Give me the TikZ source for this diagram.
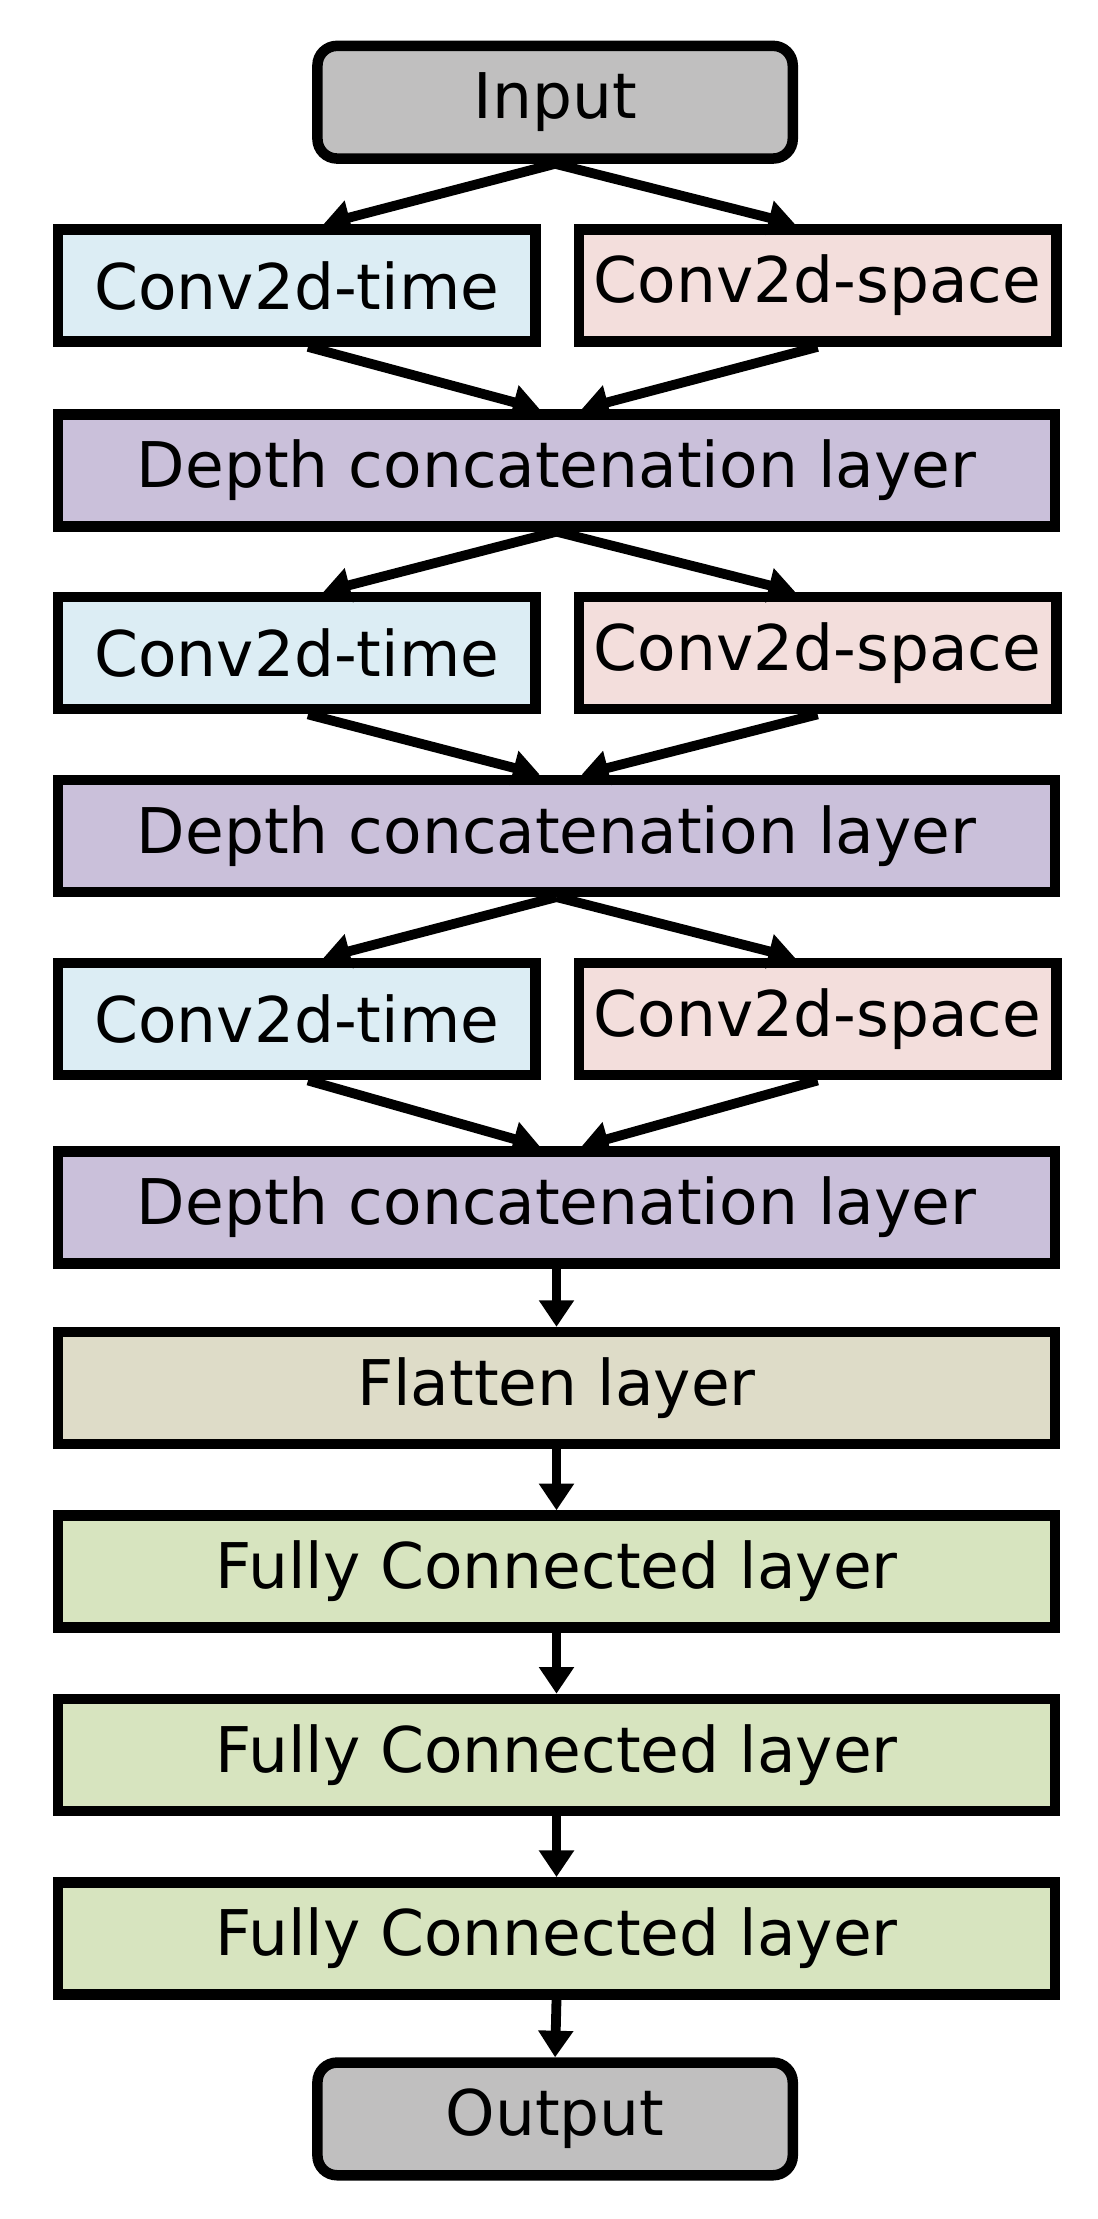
\documentclass[tikz,border=0pt]{standalone}
\usepackage{fontspec}
\setmainfont{DejaVu Sans}
\usetikzlibrary{arrows.meta}
\definecolor{cgray}{HTML}{C0BFBF}
\definecolor{ctime}{HTML}{DCEDF4}
\definecolor{cspace}{HTML}{F3DEDC}
\definecolor{cdepth}{HTML}{CAC0DA}
\definecolor{cflat}{HTML}{DEDCC8}
\definecolor{cfc}{HTML}{D7E4BF}
\begin{document}
\begin{tikzpicture}[x=0.5pt,y=-0.5pt,
  box/.style={draw,line width=3.75pt,inner sep=0pt,font=\fontsize{22.5}{27}\selectfont},
  wide/.style={box,minimum width=356pt,minimum height=40pt},
  half/.style={box,minimum width=170.5pt,minimum height=40pt},
  term/.style={box,fill=cgray,rounded corners=7pt,minimum width=169.75pt,minimum height=40.25pt},
  arr/.style={line width=3.5pt,-{Triangle[width=12pt,length=9.5pt]}}]
\useasboundingbox (0,0) rectangle (784,1585);
\node[term] (in) at (396.5,73) {Input};
\foreach \r/\y in {1/204,2/466.5,3/728}{
  \node[half,fill=ctime] (t\r) at (212,\y) {Conv2d-time};
  \node[half,fill=cspace] (s\r) at (584,\y) {Conv2d-space};
}
\foreach \r/\y in {1/336,2/597,3/862.5}{
  \node[wide,fill=cdepth] (d\r) at (397.5,\y) {Depth concatenation layer};
}
\node[wide,fill=cflat] (fl) at (397.5,991.5) {Flatten layer};
\node[wide,fill=cfc] (f1) at (397.5,1122.5) {Fully Connected layer};
\node[wide,fill=cfc] (f2) at (397.5,1253.5) {Fully Connected layer};
\node[wide,fill=cfc] (f3) at (397.5,1384.5) {Fully Connected layer};
\node[term] (out) at (396.5,1513.5) {Output};
\foreach \a/\t/\s/\d in {in/t1/s1/d1, d1/t2/s2/d2, d2/t3/s3/d3}{
  \draw[arr] (\a.south) -- ([xshift=9.5pt]\t.north);
  \draw[arr] (\a.south) -- ([xshift=-8pt]\s.north);
  \draw[arr] ([xshift=4pt]\t.south) -- ([xshift=-6pt]\d.north);
  \draw[arr] (\s.south) -- ([xshift=9pt]\d.north);
}
\draw[arr] (d3.south) -- (fl.north);
\draw[arr] (fl.south) -- (f1.north);
\draw[arr] (f1.south) -- (f2.north);
\draw[arr] (f2.south) -- (f3.north);
\draw[arr] (f3.south) -- (out.north);
\end{tikzpicture}
\end{document}
